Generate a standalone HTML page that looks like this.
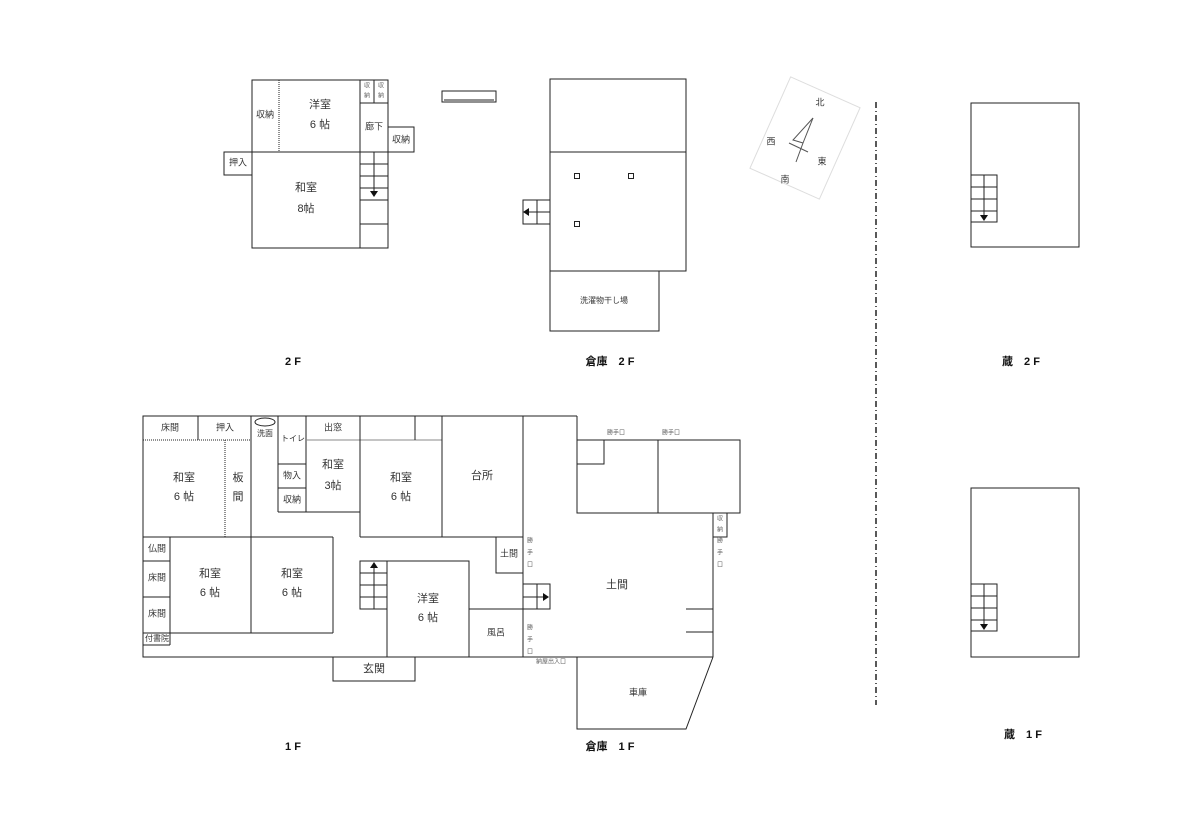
<!DOCTYPE html>
<html><head><meta charset="utf-8"><style>
html,body{margin:0;padding:0;background:#fff;}
svg{display:block;}
text{font-family:"Liberation Sans","Noto Sans CJK JP",sans-serif;fill:#333;text-anchor:middle;dominant-baseline:middle;}
.r{font-size:11px;}
.s{font-size:9px;}
.t{font-size:6px;fill:#666;}
.b{font-size:11px;font-weight:bold;fill:#111;}
</style></head><body>
<svg width="1200" height="814" viewBox="0 0 1200 814" xmlns="http://www.w3.org/2000/svg">
<g fill="none" stroke="#222" stroke-width="1">
<!-- 2F house -->
<rect x="252" y="80" width="136" height="168"/>
<line x1="279" y1="80" x2="279" y2="152" stroke-dasharray="1,1"/>
<line x1="252" y1="152" x2="388" y2="152"/>
<line x1="360" y1="80" x2="360" y2="248"/>
<line x1="374" y1="80" x2="374" y2="103"/>
<line x1="360" y1="103" x2="388" y2="103"/>
<rect x="388" y="127" width="26" height="25"/>
<rect x="224" y="152" width="28" height="23"/>
<line x1="360" y1="164" x2="388" y2="164"/>
<line x1="360" y1="176" x2="388" y2="176"/>
<line x1="360" y1="188" x2="388" y2="188"/>
<line x1="360" y1="200" x2="388" y2="200"/>
<line x1="360" y1="224" x2="388" y2="224"/>
<line x1="374" y1="152" x2="374" y2="192"/>
<rect x="442" y="91" width="54" height="11"/>
<line x1="444" y1="100" x2="494" y2="100"/>
<!-- 倉庫 2F -->
<rect x="550" y="79" width="136" height="192"/>
<line x1="550" y1="152" x2="686" y2="152"/>
<rect x="574.5" y="173.5" width="5" height="5"/>
<rect x="628.5" y="173.5" width="5" height="5"/>
<rect x="574.5" y="221.5" width="5" height="5"/>
<rect x="523" y="200" width="27" height="24"/>
<line x1="537" y1="200" x2="537" y2="224"/>
<line x1="528" y1="212" x2="550" y2="212"/>
<rect x="550" y="271" width="109" height="60"/>
<!-- 蔵 -->
<rect x="971" y="103" width="108" height="144"/>
<rect x="971" y="175" width="26" height="47"/>
<line x1="971" y1="187" x2="997" y2="187"/><line x1="971" y1="199" x2="997" y2="199"/><line x1="971" y1="211" x2="997" y2="211"/>
<line x1="984" y1="175" x2="984" y2="216"/>
<rect x="971" y="488" width="108" height="169"/>
<rect x="971" y="584" width="26" height="47"/>
<line x1="971" y1="596" x2="997" y2="596"/><line x1="971" y1="608" x2="997" y2="608"/><line x1="971" y1="620" x2="997" y2="620"/>
<line x1="984" y1="584" x2="984" y2="625"/>
<!-- dash-dot -->
<line x1="876" y1="102" x2="876" y2="705" stroke-dasharray="6,3,1,3" stroke-width="1.5"/>
<!-- 1F house -->
<polyline points="577,416 143,416 143,657 713,657"/>
<line x1="523" y1="416" x2="523" y2="657"/>
<line x1="143" y1="440" x2="251" y2="440" stroke-dasharray="1,1"/>
<line x1="198" y1="416" x2="198" y2="440"/>
<line x1="251" y1="416" x2="251" y2="537"/>
<line x1="225" y1="440" x2="225" y2="537" stroke-dasharray="1,1"/>
<line x1="278" y1="416" x2="278" y2="512"/>
<line x1="306" y1="416" x2="306" y2="512"/>
<line x1="278" y1="464" x2="306" y2="464"/>
<line x1="278" y1="488" x2="306" y2="488"/>
<line x1="278" y1="512" x2="360" y2="512"/>
<line x1="306" y1="440" x2="442" y2="440" stroke="#888"/>
<line x1="360" y1="416" x2="360" y2="537"/>
<line x1="415" y1="416" x2="415" y2="440"/>
<line x1="442" y1="416" x2="442" y2="537"/>
<line x1="360" y1="537" x2="523" y2="537"/>
<line x1="143" y1="537" x2="333" y2="537"/>
<line x1="170" y1="537" x2="170" y2="645"/>
<line x1="143" y1="561" x2="170" y2="561"/>
<line x1="143" y1="597" x2="170" y2="597"/>
<line x1="143" y1="633" x2="333" y2="633"/>
<line x1="143" y1="645" x2="170" y2="645"/>
<line x1="251" y1="537" x2="251" y2="633"/>
<line x1="333" y1="537" x2="333" y2="633"/>
<polyline points="496,537 496,573 523,573"/>
<rect x="360" y="561" width="27" height="48"/>
<line x1="360" y1="573" x2="387" y2="573"/><line x1="360" y1="585" x2="387" y2="585"/><line x1="360" y1="597" x2="387" y2="597"/>
<line x1="374" y1="568" x2="374" y2="609"/>
<rect x="387" y="561" width="82" height="96"/>
<line x1="469" y1="609" x2="523" y2="609"/>
<rect x="333" y="657" width="82" height="24"/>
<ellipse cx="265" cy="422" rx="10" ry="4"/>
<!-- 1F stairs right -->
<rect x="523" y="584" width="27" height="25"/>
<line x1="537" y1="584" x2="537" y2="609"/>
<line x1="523" y1="597" x2="543" y2="597"/>
<!-- 倉庫 1F -->
<line x1="577" y1="416" x2="577" y2="513"/>
<rect x="577" y="440" width="163" height="73"/>
<line x1="658" y1="440" x2="658" y2="513"/>
<polyline points="577,464 604,464 604,440"/>
<line x1="577" y1="513" x2="740" y2="513"/>
<rect x="713" y="513" width="14" height="24"/>
<line x1="713" y1="513" x2="713" y2="657"/>
<line x1="686" y1="609" x2="713" y2="609"/>
<line x1="686" y1="632" x2="713" y2="632"/>
<polyline points="577,657 577,729 686,729 713,657"/>
</g>
<!-- arrowheads -->
<g fill="#111">
<polygon points="370,191 378,191 374,197"/>
<polygon points="529,208 529,216 523,212"/>
<polygon points="980,215 988,215 984,221"/>
<polygon points="980,624 988,624 984,630"/>
<polygon points="370,568 378,568 374,562"/>
<polygon points="543,593 543,601 549,597"/>
</g>
<!-- compass -->
<g transform="translate(805,138) rotate(24)">
<rect x="-38" y="-50" width="76" height="100" fill="#fff" stroke="#ddd"/>
</g>
<g stroke="#555" fill="none" stroke-width="1">
<polyline points="813,118 793,140 803,143 796,162"/>
<line x1="813" y1="118" x2="803" y2="143"/>
<line x1="789" y1="143" x2="808" y2="152"/>
</g>
<text x="820" y="103" class="s">北</text>
<text x="771" y="142" class="s">西</text>
<text x="822" y="162" class="s">東</text>
<text x="785" y="180" class="s">南</text>
<!-- 2F labels -->
<text x="320" y="105" class="r">洋室</text>
<text x="320" y="125" class="r">6 帖</text>
<text x="265" y="115" class="s">収納</text>
<text x="367" y="86" class="t">収</text><text x="367" y="96" class="t">納</text>
<text x="381" y="86" class="t">収</text><text x="381" y="96" class="t">納</text>
<text x="374" y="127" class="s">廊下</text>
<text x="401" y="140" class="s">収納</text>
<text x="238" y="163" class="s">押入</text>
<text x="306" y="188" class="r">和室</text>
<text x="306" y="209" class="r">8帖</text>
<text x="604" y="301" class="s" style="font-size:8px">洗濯物干し場</text>
<!-- 1F labels -->
<text x="170" y="428" class="s">床間</text>
<text x="225" y="428" class="s">押入</text>
<text x="265" y="434" class="s" style="font-size:8px">洗面</text>
<text x="293" y="439" class="s" style="font-size:8px">トイレ</text>
<text x="333" y="428" class="s">出窓</text>
<text x="184" y="478" class="r">和室</text><text x="184" y="497" class="r">6 帖</text>
<text x="238" y="478" class="r">板</text><text x="238" y="497" class="r">間</text>
<text x="292" y="476" class="s">物入</text>
<text x="292" y="500" class="s">収納</text>
<text x="333" y="465" class="r">和室</text><text x="333" y="486" class="r">3帖</text>
<text x="401" y="478" class="r">和室</text><text x="401" y="497" class="r">6 帖</text>
<text x="482" y="476" class="r">台所</text>
<text x="157" y="549" class="s">仏間</text>
<text x="157" y="578" class="s">床間</text>
<text x="157" y="614" class="s">床間</text>
<text x="157" y="639" class="s" style="font-size:8px">付書院</text>
<text x="210" y="574" class="r">和室</text><text x="210" y="593" class="r">6 帖</text>
<text x="292" y="574" class="r">和室</text><text x="292" y="593" class="r">6 帖</text>
<text x="509" y="554" class="s">土間</text>
<text x="428" y="599" class="r">洋室</text><text x="428" y="618" class="r">6 帖</text>
<text x="496" y="633" class="s">風呂</text>
<text x="374" y="669" class="r">玄関</text>
<text x="617" y="585" class="r">土間</text>
<text x="638" y="693" class="s">車庫</text>
<text x="616" y="433" class="t">勝手口</text>
<text x="671" y="433" class="t">勝手口</text>
<text x="551" y="662" class="t">納屋出入口</text>
<text x="530" y="541" class="t">勝</text><text x="530" y="553" class="t">手</text><text x="530" y="565" class="t">口</text>
<text x="530" y="628" class="t">勝</text><text x="530" y="640" class="t">手</text><text x="530" y="652" class="t">口</text>
<text x="720" y="519" class="t">収</text><text x="720" y="530" class="t">納</text>
<text x="720" y="541" class="t">勝</text><text x="720" y="553" class="t">手</text><text x="720" y="565" class="t">口</text>
<!-- floor titles -->
<text x="293" y="362" class="b">2 F</text>
<text x="610" y="362" class="b">倉庫　2 F</text>
<text x="1021" y="362" class="b">蔵　2 F</text>
<text x="293" y="747" class="b">1 F</text>
<text x="610" y="747" class="b">倉庫　1 F</text>
<text x="1023" y="735" class="b">蔵　1 F</text>
</svg>
</body></html>
